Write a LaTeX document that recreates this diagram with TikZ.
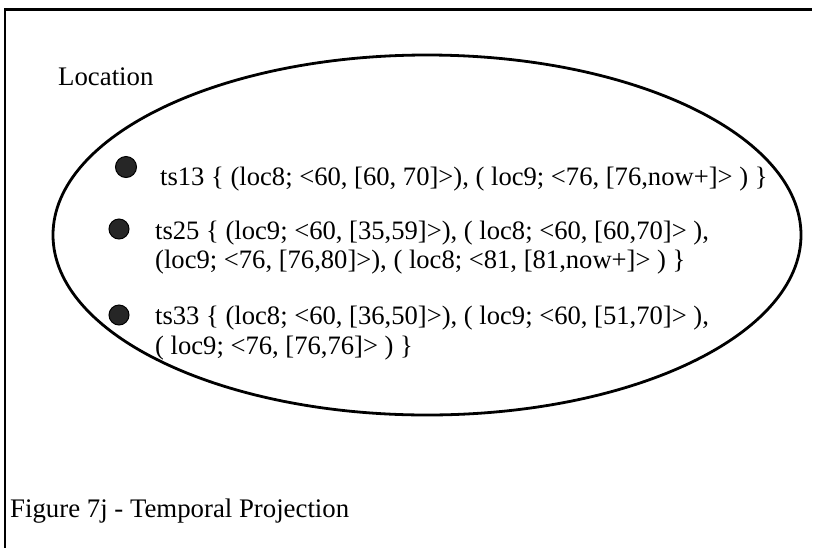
\documentclass[tikz,border=0pt]{standalone}
\usepackage{fontspec}
\setmainfont{Liberation Serif}
\usetikzlibrary{shapes.geometric}
\begin{document}
\begin{tikzpicture}[x=1pt,y=-1pt,
  rule/.style={line width=2.7pt, line cap=rect},
  region/.style={draw, ellipse, line width=2.8pt, inner sep=0pt},
  bullet/.style={circle, fill=black!85, draw=black, line width=1pt, inner sep=0pt, minimum size=20pt},
  entry/.style={anchor=base west, inner sep=0pt, font=\fontsize{26.6}{30}\selectfont},
  caption/.style={anchor=base west, inner sep=0pt, font=\fontsize{26.8}{30}\selectfont}]
  \useasboundingbox (0,0) rectangle (819,547);
  % open frame: left side and top edge
  \coordinate (fb) at (5,547);
  \coordinate (ftl) at (5,9.5);
  \coordinate (ftr) at (811,9.5);
  \draw[rule] (fb) -- (ftl) -- (ftr);
  % the Location set
  \node[caption] (loclabel) at (58,85) {Location};
  \node[region, minimum width=748pt, minimum height=360pt] (loc) at (427,235) {};
  % members of the set
  \node[bullet, minimum size=21pt] (b13) at (126,167) {};
  \node[bullet] (b25) at (119,229) {};
  \node[bullet] (b33) at (119,315) {};
  \node[entry] (t13) at (160,185) {ts13 \{ (loc8; <60, [60, 70]>), ( loc9; <76, [76,now+]> ) \}};
  \node[entry] (t25a) at (155,239) {ts25 \{ (loc9; <60, [35,59]>), ( loc8; <60, [60,70]> ),};
  \node[entry] (t25b) at (155,268) {(loc9; <76, [76,80]>), ( loc8; <81, [81,now+]> ) \}};
  \node[entry] (t33a) at (155,324) {ts33 \{ (loc8; <60, [36,50]>), ( loc9; <60, [51,70]> ),};
  \node[entry] (t33b) at (155,354) {( loc9; <76, [76,76]> ) \}};
  % caption
  \node[caption] (cap) at (10,517) {Figure 7j - Temporal Projection};
\end{tikzpicture}
\end{document}
